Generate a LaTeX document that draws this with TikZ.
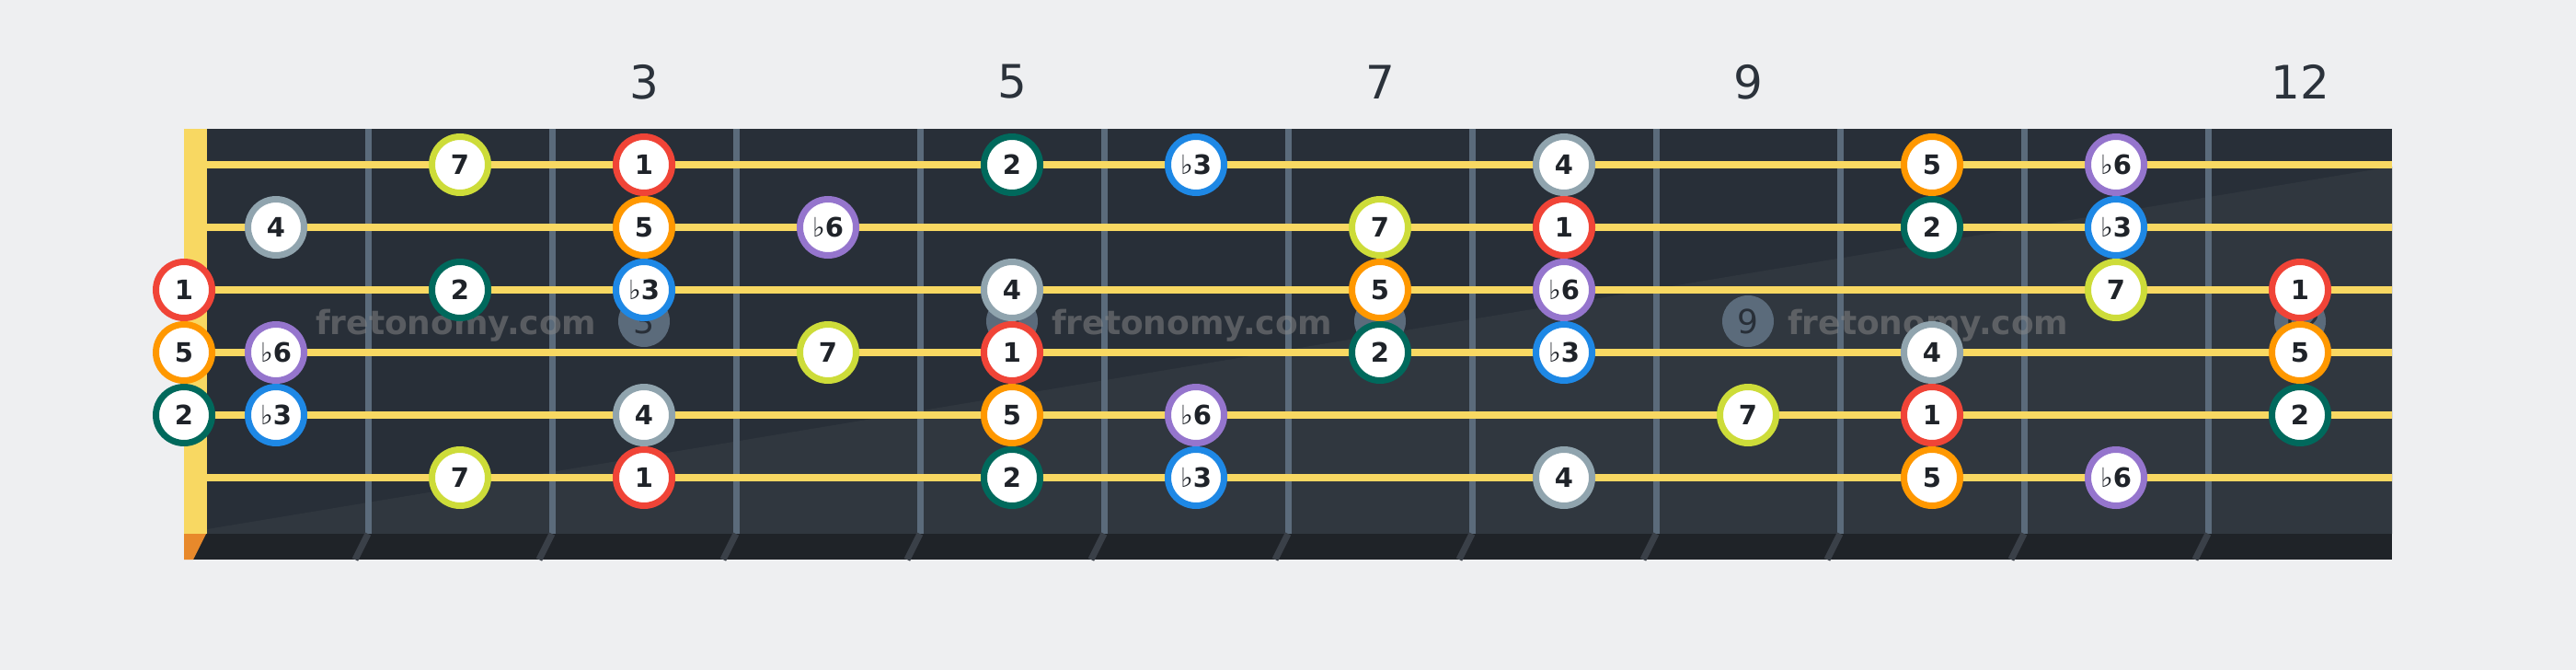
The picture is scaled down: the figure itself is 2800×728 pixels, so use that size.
\documentclass[tikz,border=0pt]{standalone}
\usepackage{fontspec}
\setmainfont{DejaVu Sans}
\usepackage{xcolor}
\usepackage{tikz}

\definecolor{paper}{HTML}{EEEFF1}
\definecolor{boardtop}{HTML}{282F38}
\definecolor{boardlow}{HTML}{30373F}
\definecolor{boardfoot}{HTML}{1F2328}
\definecolor{wire}{HTML}{5B6B7B}
\definecolor{wirefoot}{HTML}{3A4048}
\definecolor{gut}{HTML}{F8D862}
\definecolor{nutfoot}{HTML}{E8892B}
\definecolor{ink}{HTML}{1F2329}
\definecolor{labelink}{HTML}{2B323B}
\definecolor{colI}{HTML}{F04437}
\definecolor{colII}{HTML}{00695C}
\definecolor{colIII}{HTML}{1E88E5}
\definecolor{colIV}{HTML}{90A4AE}
\definecolor{colV}{HTML}{FF9800}
\definecolor{colVI}{HTML}{9575CD}
\definecolor{colVII}{HTML}{CDDC39}

\newcommand{\mflat}{{\mdseries ♭}}

\tikzset{
  note/.style={circle, fill=white, line width=7pt, minimum size=61pt, inner sep=0pt,
    text=ink, font=\fontsize{29}{29}\selectfont\bfseries},
  ivI/.style={note, draw=colI},
  ivII/.style={note, draw=colII},
  ivIII/.style={note, draw=colIII},
  ivIV/.style={note, draw=colIV},
  ivV/.style={note, draw=colV},
  ivVI/.style={note, draw=colVI},
  ivVII/.style={note, draw=colVII},
  fretlabel/.style={text=labelink, font=\fontsize{50}{50}\selectfont, inner sep=0pt},
  inlay/.style={circle, fill=wire, minimum size=56pt, inner sep=0pt,
    text=boardtop, font=\fontsize{36}{36}\selectfont},
  stamp/.style={anchor=base west, inner sep=0pt, text={rgb,255:red,138;green,138;blue,138},
    text opacity=.5, font=\fontsize{36}{36}\selectfont\bfseries},
  fretwire/.style={draw=wire, line width=7pt},
  gutstring/.style={draw=gut, line width=8pt}
}

\begin{document}
\begin{tikzpicture}[x=1pt, y=-1pt]
\useasboundingbox (0,0) rectangle (2800,728);
\fill[paper] (0,0) rectangle (2800,728);

% board
\fill[boardtop] (200,140) rectangle (2600,580);
\fill[boardlow] (225,575) -- (2600,181) -- (2600,580) -- (225,580) -- cycle;
\fill[boardfoot] (200,580) rectangle (2600,608);
\fill[nutfoot] (200,580) -- (224,580) -- (210,608) -- (200,608) -- cycle;

% frets
\draw[fretwire]
(400,140) -- (400,580) (600,140) -- (600,580) (800,140) -- (800,580)
(1000,140) -- (1000,580) (1200,140) -- (1200,580) (1400,140) -- (1400,580)
(1600,140) -- (1600,580) (1800,140) -- (1800,580) (2000,140) -- (2000,580)
(2200,140) -- (2200,580) (2400,140) -- (2400,580);
\draw[draw=wirefoot, line width=7pt]
(400,580) -- (386,608) (600,580) -- (586,608) (800,580) -- (786,608)
(1000,580) -- (986,608) (1200,580) -- (1186,608) (1400,580) -- (1386,608)
(1600,580) -- (1586,608) (1800,580) -- (1786,608) (2000,580) -- (1986,608)
(2200,580) -- (2186,608) (2400,580) -- (2386,608);

% inlays
\node[inlay] (dot3) at (700,349) {3};
\node[inlay] (dot5) at (1100,349) {5};
\node[inlay] (dot7) at (1500,349) {7};
\node[inlay] (dot9) at (1900,349) {9};
\node[inlay] (dot12) at (2500,349) {12};

% watermark
\node[stamp] (mark1) at (343,363) {fretonomy.com};
\node[stamp] (mark2) at (1143,363) {fretonomy.com};
\node[stamp] (mark3) at (1943,363) {fretonomy.com};

% nut and strings
\fill[gut] (200,140) rectangle (225,580);
\draw[gutstring]
(225,179) -- (2600,179) (225,247) -- (2600,247) (225,315) -- (2600,315)
(225,383) -- (2600,383) (225,451) -- (2600,451) (225,519) -- (2600,519);

% fret numbers
\node[fretlabel] (lab3) at (700,89) {3};
\node[fretlabel] (lab5) at (1100,89) {5};
\node[fretlabel] (lab7) at (1500,89) {7};
\node[fretlabel] (lab9) at (1900,89) {9};
\node[fretlabel] (lab12) at (2500,89) {12};

% string 1
\node[ivVII] (sAf2) at (500,179) {7};
\node[ivI] (sAf3) at (700,179) {1};
\node[ivII] (sAf5) at (1100,179) {2};
\node[ivIII] (sAf6) at (1300,179) {\mflat3};
\node[ivIV] (sAf8) at (1700,179) {4};
\node[ivV] (sAf10) at (2100,179) {5};
\node[ivVI] (sAf11) at (2300,179) {\mflat6};
% string 2
\node[ivIV] (sBf1) at (300,247) {4};
\node[ivV] (sBf3) at (700,247) {5};
\node[ivVI] (sBf4) at (900,247) {\mflat6};
\node[ivVII] (sBf7) at (1500,247) {7};
\node[ivI] (sBf8) at (1700,247) {1};
\node[ivII] (sBf10) at (2100,247) {2};
\node[ivIII] (sBf11) at (2300,247) {\mflat3};
% string 3
\node[ivI] (sCf0) at (200,315) {1};
\node[ivII] (sCf2) at (500,315) {2};
\node[ivIII] (sCf3) at (700,315) {\mflat3};
\node[ivIV] (sCf5) at (1100,315) {4};
\node[ivV] (sCf7) at (1500,315) {5};
\node[ivVI] (sCf8) at (1700,315) {\mflat6};
\node[ivVII] (sCf11) at (2300,315) {7};
\node[ivI] (sCf12) at (2500,315) {1};
% string 4
\node[ivV] (sDf0) at (200,383) {5};
\node[ivVI] (sDf1) at (300,383) {\mflat6};
\node[ivVII] (sDf4) at (900,383) {7};
\node[ivI] (sDf5) at (1100,383) {1};
\node[ivII] (sDf7) at (1500,383) {2};
\node[ivIII] (sDf8) at (1700,383) {\mflat3};
\node[ivIV] (sDf10) at (2100,383) {4};
\node[ivV] (sDf12) at (2500,383) {5};
% string 5
\node[ivII] (sEf0) at (200,451) {2};
\node[ivIII] (sEf1) at (300,451) {\mflat3};
\node[ivIV] (sEf3) at (700,451) {4};
\node[ivV] (sEf5) at (1100,451) {5};
\node[ivVI] (sEf6) at (1300,451) {\mflat6};
\node[ivVII] (sEf9) at (1900,451) {7};
\node[ivI] (sEf10) at (2100,451) {1};
\node[ivII] (sEf12) at (2500,451) {2};
% string 6
\node[ivVII] (sFf2) at (500,519) {7};
\node[ivI] (sFf3) at (700,519) {1};
\node[ivII] (sFf5) at (1100,519) {2};
\node[ivIII] (sFf6) at (1300,519) {\mflat3};
\node[ivIV] (sFf8) at (1700,519) {4};
\node[ivV] (sFf10) at (2100,519) {5};
\node[ivVI] (sFf11) at (2300,519) {\mflat6};
\end{tikzpicture}
\end{document}
